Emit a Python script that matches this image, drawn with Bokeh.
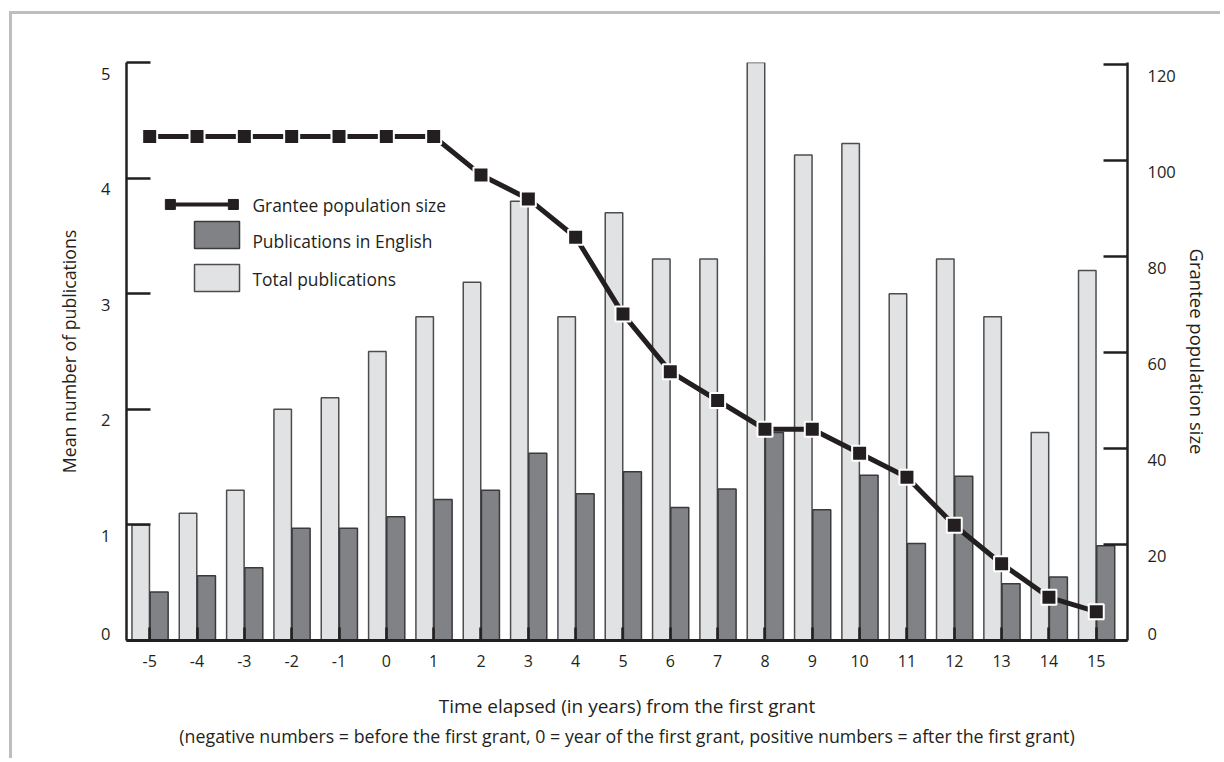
from bokeh.plotting import figure
from bokeh.models import Range1d, LinearAxis, FixedTicker, Title, ColumnDataSource, CustomJSTickFormatter
from bokeh.core.properties import value
from bokeh.embed import file_html
from bokeh.resources import INLINE

# ---- data ----
years = [-5, -4, -3, -2, -1, 0, 1, 2, 3, 4, 5, 6, 7, 8, 9, 10, 11, 12, 13, 14, 15]
year_labels = ["-5", "-4", "-3", "-2", "-1", "0", "1", "2", "3", "4", "5", "6", "7",
               "8", "9", "10", "11", "12", "13", "14", "15"]
total_pubs = [1.0, 1.1, 1.3, 2.0, 2.1, 2.5, 2.8, 3.1, 3.8, 2.8, 3.7, 3.3, 3.3, 5.0, 4.2, 4.3, 3.0, 3.3, 2.8, 1.8, 3.2]
english_pubs = [0.42, 0.56, 0.63, 0.97, 0.97, 1.07, 1.22, 1.30, 1.62, 1.27, 1.46, 1.15, 1.31, 1.80, 1.13, 1.43, 0.84, 1.42, 0.49, 0.55, 0.82]
population = [105, 105, 105, 105, 105, 105, 105, 97, 92, 84, 68, 56, 50, 44, 44, 39, 34, 24, 16, 9, 6]
left_ticks = [0, 1, 2, 3, 4, 5]
left_labels = ["0", "1", "2", "3", "4", "5"]
right_ticks = [0, 20, 40, 60, 80, 100, 120]
right_labels = ["0", "20", "40", "60", "80", "100", "120"]

FONT = "Open Sans"
INK = "#231f20"
LIGHT = "#e1e2e4"
DARK = "#808285"

FRAME_H = 578
LEFT_MAX = 5
RIGHT_MAX = 120.42

src = ColumnDataSource(dict(
    x=years,
    x_total=[y - 0.19 for y in years],
    x_eng=[y + 0.20 for y in years],
    total=total_pubs,
    eng=english_pubs,
    pop=population,
))

p = figure(width=1211, height=747,
           x_range=Range1d(-5.49, 15.66), y_range=Range1d(0, LEFT_MAX),
           output_backend="svg", toolbar_location=None,
           min_border_left=114, min_border_right=96,
           min_border_top=48, min_border_bottom=121)
p.styles = {"margin-left": "9px", "margin-top": "11px",
            "border-left": "3px solid #bdbec0", "border-top": "3px solid #bdbec0"}
p.outline_line_color = None
p.xgrid.visible = False
p.ygrid.visible = False

p.extra_y_ranges = {"pop": Range1d(0, RIGHT_MAX)}

# bars
p.vbar(x="x_total", top="total", width=0.37, bottom=0, source=src,
       fill_color=LIGHT, line_color="#4d4d4f", line_width=1.5)
p.vbar(x="x_eng", top="eng", width=0.38, bottom=0, source=src,
       fill_color=DARK, line_color="#3a3a3c", line_width=1.5)

# population line
p.line(x="x", y="pop", source=src, y_range_name="pop", line_color=INK, line_width=5)
p.scatter(x="x", y="pop", source=src, y_range_name="pop", marker="square",
          size=15, fill_color=INK, line_color="white", line_width=2)


def style_ticks(ax, tick_in):
    ax.major_tick_in = tick_in
    ax.major_tick_out = 0
    ax.minor_tick_line_color = None
    ax.major_tick_line_width = 2.5
    ax.major_tick_line_color = INK
    ax.axis_line_width = 2.5
    ax.axis_line_color = INK


def style_labels(ax, size):
    ax.major_label_text_font = FONT
    ax.major_label_text_font_size = size
    ax.major_label_text_color = INK
    ax.axis_label_text_font = FONT
    ax.axis_label_text_font_style = "normal"
    ax.axis_label_text_color = INK


def label_only(ax):
    ax.axis_line_color = None
    ax.major_tick_line_color = None
    ax.minor_tick_line_color = None


# ---- x axis ----
xa = p.xaxis[0]
style_ticks(xa, 13)
xa.axis_line_width = 3
style_labels(xa, "16px")
xa.ticker = FixedTicker(ticks=years)
xa.formatter = CustomJSTickFormatter(args=dict(labels=year_labels), code="return labels[index];")
xa.major_label_standoff = 14
xa.axis_label = "Time elapsed (in years) from the first grant"
xa.axis_label_text_font_size = "19px"
xa.axis_label_standoff = 23

# ---- left axis: line + ticks ----
ya = p.yaxis[0]
style_ticks(ya, 24)
ya.ticker = FixedTicker(ticks=left_ticks)
ya.formatter = CustomJSTickFormatter(code="return '';")
ya.major_label_standoff = 0

# left labels sit a little below their ticks (as in the source), 0 slightly above
lpx = FRAME_H / LEFT_MAX
left_label_pos = [t + 7 / lpx if t == 0 else t - 11 / lpx for t in left_ticks]
ya2 = LinearAxis(ticker=FixedTicker(ticks=left_label_pos),
                 formatter=CustomJSTickFormatter(args=dict(labels=left_labels), code="return labels[index];"))
label_only(ya2)
style_labels(ya2, "16.5px")
ya2.major_tick_in = 0
ya2.major_tick_out = 0
ya2.major_label_standoff = 16
ya2.axis_label = "Mean number of publications"
ya2.axis_label_text_font_size = "17.7px"
ya2.axis_label_standoff = 17
p.add_layout(ya2, "left")

# ---- right axis ----
ra = LinearAxis(y_range_name="pop", ticker=FixedTicker(ticks=right_ticks),
                formatter=CustomJSTickFormatter(code="return '';"))
style_ticks(ra, 24)
ra.major_label_standoff = 0
p.add_layout(ra, "right")

rpx = FRAME_H / RIGHT_MAX
right_label_pos = [t + 7 / rpx if t == 0 else t - 11 / rpx for t in right_ticks]
ra2 = LinearAxis(y_range_name="pop", ticker=FixedTicker(ticks=right_label_pos),
                 formatter=CustomJSTickFormatter(args=dict(labels=right_labels), code="return labels[index];"))
label_only(ra2)
style_labels(ra2, "16.5px")
ra2.major_tick_in = 0
ra2.major_tick_out = 0
ra2.major_label_standoff = 20
ra2.axis_label = "Grantee population size"
ra2.axis_label_text_font_size = "18.5px"
ra2.axis_label_standoff = 6
p.add_layout(ra2, "right")

sub = Title(text="(negative numbers = before the first grant, 0 = year of the first grant, positive numbers = after the first grant)",
            align="center", text_font=FONT, text_font_size="17.8px",
            text_font_style="normal", text_color=INK, standoff=0)
p.add_layout(sub, "below")

# ---- legend (drawn manually) ----
p.line(x=[-4.458, -3.338], y=[3.772, 3.772], line_color=INK, line_width=4)
p.scatter(x=[-4.563, -3.232], y=[3.772, 3.772], marker="square", size=10,
          fill_color=INK, line_color=INK)
p.quad(left=[-4.053], right=[-3.102], top=[3.625], bottom=[3.391],
       fill_color=DARK, line_color="#3a3a3c", line_width=1.5)
p.quad(left=[-4.053], right=[-3.102], top=[3.253], bottom=[3.019],
       fill_color=LIGHT, line_color="#4d4d4f", line_width=1.5)
p.text(x=[-2.83, -2.83, -2.83], y=[3.763, 3.452, 3.123],
       text=["Grantee population size", "Publications in English", "Total publications"],
       text_font=value(FONT), text_font_size="17.4px", text_baseline="middle",
       text_align="left", text_color=INK)

open("out.html", "w").write(file_html(p, INLINE))
